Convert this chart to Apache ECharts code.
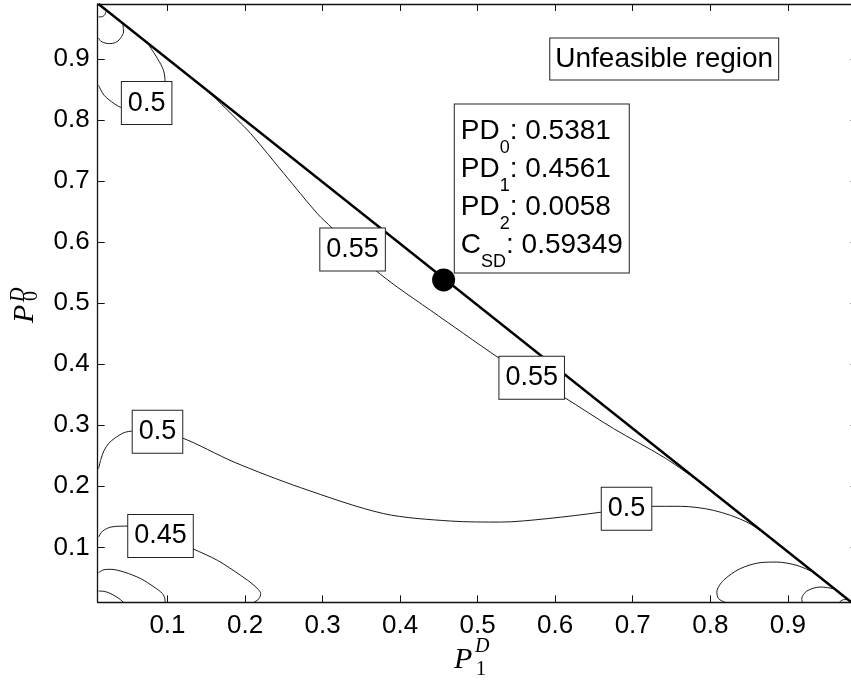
<!DOCTYPE html>
<html>
<head>
<meta charset="utf-8">
<script src="https://cdn.jsdelivr.net/npm/echarts@6.0.0/dist/echarts.min.js"></script>
<style>
html, body { margin: 0; padding: 0; overflow: hidden; background: #fff; }
#chart { width: 858px; height: 683px; }
</style>
</head>
<body>
<div id="chart"></div>
<script>
// tick positions on both axes
const tickValues = [0.1, 0.2, 0.3, 0.4, 0.5, 0.6, 0.7, 0.8, 0.9];

// feasibility boundary and optimum
const boundary = [[0.011, 0.99], [0.982, 0.01]];
const optimum = [[0.4561, 0.5381]];

// contour lines (P1, P0)
const cornerTiny = [[0.0111, 0.9689], [0.0153, 0.9691], [0.0192, 0.9724], [0.0205, 0.978]];
const cornerArc = [[0.0111, 0.9344], [0.0141, 0.929], [0.0205, 0.9257], [0.027, 0.9252], [0.0347, 0.9281],
  [0.0398, 0.9347], [0.0433, 0.9442], [0.0425, 0.957]];
const top050 = [[0.0763, 0.922], [0.0871, 0.9006], [0.0948, 0.8815], [0.0969, 0.8618], [0.0927, 0.8389],
  [0.0721, 0.8241], [0.042, 0.8203], [0.0312, 0.8269], [0.0183, 0.8405], [0.0111, 0.8569]];
const mid055 = [[0.1493, 0.85], [0.1644, 0.8323], [0.1858, 0.8055], [0.2073, 0.7778], [0.2502, 0.7122],
  [0.2932, 0.6467], [0.3126, 0.6226], [0.3387, 0.5866], [0.3683, 0.5538], [0.3963, 0.5264],
  [0.4392, 0.4883], [0.4821, 0.4501], [0.5281, 0.4096], [0.568, 0.3785], [0.6109, 0.3462],
  [0.6753, 0.2945], [0.7397, 0.2479], [0.778, 0.2147]];
const low050 = [[0.0111, 0.2289], [0.0141, 0.2442], [0.0183, 0.2589], [0.0244, 0.2704], [0.0312, 0.2781],
  [0.0441, 0.2879], [0.0562, 0.2905], [0.0785, 0.29], [0.118, 0.2797], [0.1858, 0.2397],
  [0.2717, 0.1978], [0.379, 0.1552], [0.465, 0.1431], [0.5294, 0.1414], [0.5895, 0.147],
  [0.6604, 0.1578], [0.6904, 0.1639], [0.7235, 0.1672], [0.7613, 0.1672], [0.8042, 0.1606],
  [0.8472, 0.1414], [0.8875, 0.1066]];
const low045 = [[0.0111, 0.1169], [0.0163, 0.1267], [0.027, 0.1333], [0.0398, 0.1347], [0.0498, 0.1349],
  [0.0914, 0.1197], [0.1322, 0.0979], [0.1644, 0.0787], [0.1944, 0.0541], [0.2116, 0.0377],
  [0.2202, 0.0241], [0.218, 0.016], [0.2116, 0.01]];
const bottomLeftA = [[0.0111, 0.0585], [0.0183, 0.0635], [0.027, 0.064], [0.0441, 0.0595], [0.0656, 0.0487],
  [0.0827, 0.035], [0.0936, 0.0241], [0.0969, 0.0132], [0.0969, 0.01]];
const bottomLeftB = [[0.0111, 0.0284], [0.0183, 0.0279], [0.027, 0.0241], [0.0376, 0.016], [0.0433, 0.01]];
const bottomRightA = [[0.8192, 0.01], [0.8106, 0.016], [0.8085, 0.0268], [0.817, 0.0459], [0.8386, 0.0651],
  [0.8643, 0.0749], [0.8858, 0.0759], [0.9116, 0.0705], [0.9352, 0.058]];
const bottomRightB = [[0.9188, 0.01], [0.918, 0.016], [0.9245, 0.0284], [0.9416, 0.035], [0.9588, 0.0323],
  [0.9631, 0.0289]];
const bottomRightC = [[0.9665, 0.01], [0.9716, 0.0143], [0.9781, 0.0145]];

// contour level labels: [P1, P0, level]
const levelLabels = [
  [0.0731, 0.8277, '0.5'],
  [0.3387, 0.5879, '0.55'],
  [0.5697, 0.3777, '0.55'],
  [0.0871, 0.2892, '0.5'],
  [0.091, 0.1188, '0.45'],
  [0.692, 0.1634, '0.5']
];

// annotation boxes: [P1, P0]
const regionNote = [0.7406, 0.8998];
const resultNote = [0.4705, 0.6876];
const resultLines = [['PD', '0', '0.5381'], ['PD', '1', '0.4561'], ['PD', '2', '0.0058'], ['C', 'SD', '0.59349']];

const chart = echarts.init(document.getElementById('chart'));
const font = 'Liberation Sans';

function contour(data) {
  return {
    type: 'line', data: data, smooth: 0.3, showSymbol: false, silent: true,
    lineStyle: { color: '#1a1a1a', width: 1 }
  };
}

function axisCommon(showLabel) {
  return {
    type: 'value', min: 0.01, max: 0.99,
    splitLine: { show: false },
    axisLine: { show: true, onZero: false, lineStyle: { color: '#111', width: 1.3 } },
    axisTick: { show: true, inside: true, length: 7, customValues: tickValues, lineStyle: { color: '#111', width: 1 } },
    axisLabel: {
      show: showLabel, customValues: tickValues, color: '#000', fontFamily: font, fontSize: 26,
      formatter: function (v) { return v.toFixed(1); }
    }
  };
}

const xBottom = axisCommon(true); xBottom.position = 'bottom'; xBottom.axisLabel.margin = 11;
const xTop = axisCommon(false); xTop.position = 'top';
const yLeft = axisCommon(true); yLeft.position = 'left'; yLeft.axisLabel.margin = 8;
const yRight = axisCommon(false); yRight.position = 'right';

function mathName(x, y, rot, sub, supUp, subDown) {
  return {
    type: 'group', x: x, y: y, rotation: rot, silent: true,
    children: [
      { type: 'text', x: 0, y: 0, style: { text: 'P', fontFamily: 'Liberation Serif', fontStyle: 'italic', fontSize: 30, fill: '#000', align: 'left', verticalAlign: 'middle' } },
      { type: 'text', x: 21, y: -supUp, style: { text: 'D', fontFamily: 'Liberation Serif', fontStyle: 'italic', fontSize: 20, fill: '#000', align: 'left', verticalAlign: 'middle' } },
      { type: 'text', x: 22, y: subDown, style: { text: sub, fontFamily: 'Liberation Serif', fontSize: 20, fill: '#000', align: 'left', verticalAlign: 'middle' } }
    ]
  };
}

const resultText = resultLines.map(function (l) {
  return '{n|' + l[0] + '}{s|' + l[1] + '}{n|: ' + l[2] + '}';
}).join('\n');

chart.setOption({
  animation: false,
  backgroundColor: '#fff',
  grid: { left: 97.7, right: 0.4, top: 4, bottom: 80.7 },
  xAxis: [xBottom, xTop],
  yAxis: [yLeft, yRight],
  series: [
    contour(cornerTiny), contour(cornerArc), contour(top050), contour(mid055), contour(low050),
    contour(low045), contour(bottomLeftA), contour(bottomLeftB), contour(bottomRightA),
    contour(bottomRightB), contour(bottomRightC),
    {
      type: 'line', data: boundary, showSymbol: false, silent: true, z: 3,
      lineStyle: { color: '#000', width: 2.4 }
    },
    {
      type: 'scatter', data: levelLabels, symbolSize: 0, silent: true, z: 5,
      itemStyle: { opacity: 1 },
      label: {
        show: true, position: 'inside', formatter: function (p) { return p.data[2]; },
        color: '#000', fontFamily: font, fontSize: 27, lineHeight: 28,
        backgroundColor: '#fff', borderColor: '#222', borderWidth: 1, padding: [7, 6, 7, 6]
      }
    },
    {
      type: 'scatter', data: [regionNote], symbolSize: 0, silent: true, z: 5,
      itemStyle: { opacity: 1 },
      label: {
        show: true, position: 'inside', formatter: 'Unfeasible region',
        color: '#000', fontFamily: font, fontSize: 28, lineHeight: 31,
        backgroundColor: '#fff', borderColor: '#222', borderWidth: 1, padding: [5, 5, 5, 5]
      }
    },
    {
      type: 'scatter', data: [resultNote], symbolSize: 0, silent: true, z: 5,
      itemStyle: { opacity: 1 },
      label: {
        show: true, position: 'inside', formatter: resultText, align: 'left',
        backgroundColor: '#fff', borderColor: '#222', borderWidth: 1, padding: [8, 6, 8, 6],
        rich: {
          n: { color: '#000', fontFamily: font, fontSize: 28, lineHeight: 38 },
          s: { color: '#000', fontFamily: font, fontSize: 18, lineHeight: 1, verticalAlign: 'top', padding: [26, 0, 0, 0] }
        }
      }
    },
    {
      type: 'scatter', data: optimum, symbol: 'circle', symbolSize: 23, silent: true, z: 6,
      itemStyle: { color: '#000', opacity: 1 }
    }
  ],
  graphic: [
    mathName(454, 660, 0, '1', 13, 10),
    mathName(25, 323, Math.PI / 2, '0', 6, 7)
  ]
});
</script>
</body>
</html>
